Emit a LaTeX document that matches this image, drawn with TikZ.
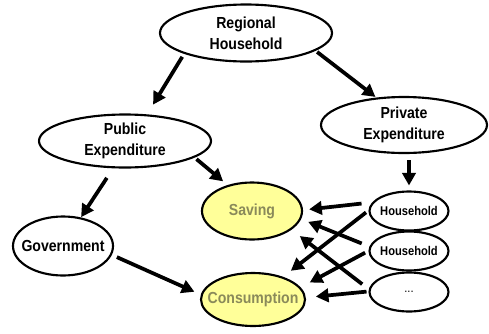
\documentclass[tikz,border=0pt]{standalone}
\usepackage{fontspec}
\setmainfont{Liberation Sans}[FakeStretch=0.88]
\usetikzlibrary{shapes.geometric,arrows.meta}
\definecolor{savefill}{RGB}{255,255,153}
\definecolor{savetext}{RGB}{138,138,90}
\tikzset{
  oval/.style={ellipse,draw,line width=1.6pt,inner xsep=-10pt,inner ysep=-2pt,
    outer sep=0pt,align=center,font=\fontsize{12}{15.5}\selectfont\bfseries},
  account/.style={oval,fill=savefill,text=savetext},
  agent/.style={oval,minimum width=59.25pt,minimum height=29.25pt,
    font=\fontsize{9.5}{11}\selectfont\bfseries},
  flow/.style={line width=2.8pt,-{Triangle[length=9.5pt,width=10pt]}}
}

\begin{document}
\begin{tikzpicture}[x=0.75pt,y=-0.75pt]
\useasboundingbox (0,0) rectangle (489,333);
\node[oval,minimum width=129pt,minimum height=42.75pt] (regional) at (246,33) {Regional\\Household};
\node[oval,minimum width=129pt,minimum height=39.75pt] (public) at (125,141) {Public\\Expenditure};
\node[oval,minimum width=124.5pt,minimum height=42pt] (private) at (404,125) {Private\\Expenditure};
\node[oval,minimum width=75pt,minimum height=44.25pt] (government) at (63,246) {Government};
\node[account,minimum width=75pt,minimum height=42.75pt] (saving) at (252,211) {Saving};
\node[account,minimum width=78pt,minimum height=39.75pt] (consumption) at (253,299.5) {Consumption};
\node[agent] (hh1) at (409,211) {Household};
\node[agent] (hh2) at (409,251) {Household};
\node[agent,font=\fontsize{9.5}{11}\selectfont] (hhdots) at (409,292) {...};
\draw[flow,shorten <=5.25pt,shorten >=4.5pt] (private.south -| hh1.north) -- (hh1.north);
\foreach \a/\b/\s/\e in {
  regional.198/public.50/3.4pt/9.4pt,
  regional.346/private.135/2.25pt/1.9pt,
  public.347/saving.133/2.6pt/5.25pt,
  public.247/government.58/9.5pt/1.1pt,
  government.350/consumption.175/4.9pt/6pt,
  hh1.166/saving.1/9.2pt/5.4pt,
  hh1.178/consumption.37/3.4pt/8.25pt,
  hh2.174/saving.351/7pt/6.5pt,
  hh2.179/consumption.14/3.75pt/8.5pt,
  hhdots.177/saving.335/7.1pt/8.6pt,
  hhdots.179/consumption.2/2.25pt/8.25pt%
}
\draw[flow,shorten <=\s,shorten >=\e] (\a) -- (\b);
\end{tikzpicture}
\end{document}
